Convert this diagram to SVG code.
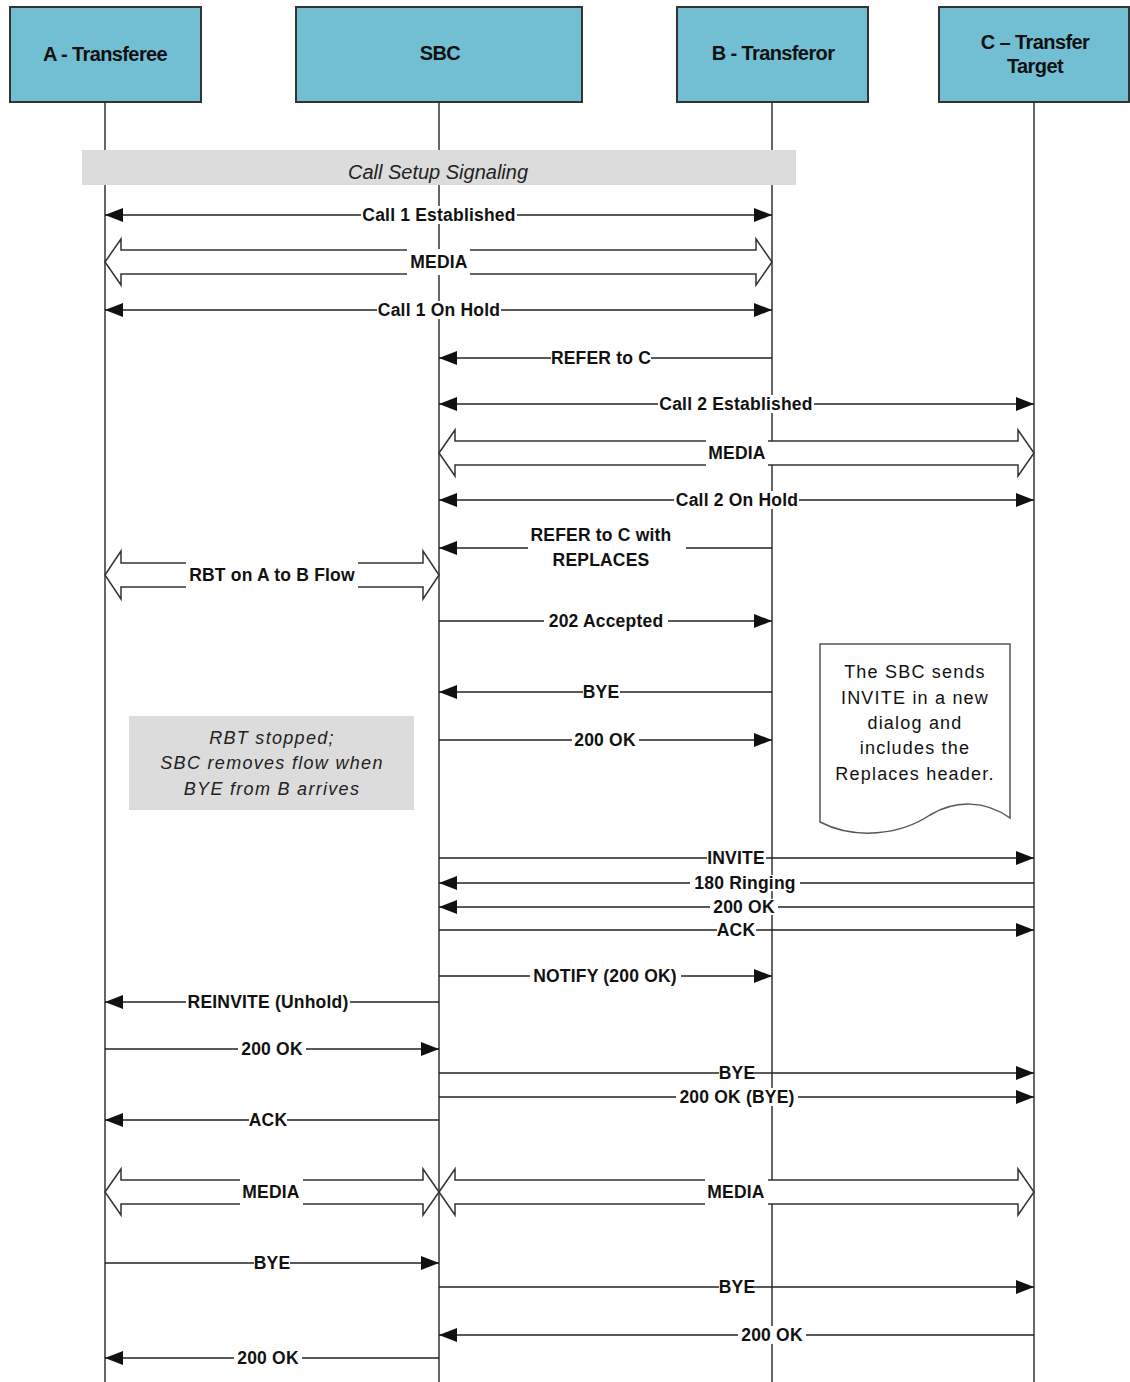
<svg xmlns="http://www.w3.org/2000/svg" width="1130" height="1382" viewBox="0 0 1130 1382">
<style>
.hdr{fill:#72bfd3;stroke:#333;stroke-width:2}
.ht{font-family:"Liberation Sans",Arial,sans-serif;font-weight:bold;font-size:20px;letter-spacing:-0.6px;fill:#111;text-anchor:middle}
.life{stroke:#333;stroke-width:1.5}
.msg{stroke:#222;stroke-width:1.5;fill:none}
.fat{fill:#fff;stroke:#333;stroke-width:1.5}
.lb{fill:#fff}
.t{font-family:"Liberation Sans",Arial,sans-serif;font-weight:bold;font-size:17.5px;letter-spacing:0.2px;fill:#111;text-anchor:middle}
.gray{fill:#dcdcdc}
.it{font-family:"Liberation Sans",Arial,sans-serif;font-style:italic;fill:#222;text-anchor:middle}
.note{fill:#fff;stroke:#555;stroke-width:1.5}
.nt{font-family:"Liberation Sans",Arial,sans-serif;font-size:18px;letter-spacing:1.2px;fill:#111;text-anchor:middle}
</style>
<defs>
<marker id="ah" markerUnits="userSpaceOnUse" markerWidth="18" markerHeight="14" refX="18" refY="7" orient="auto-start-reverse">
<path d="M0,0 L18,7 L0,14 z" fill="#111"/>
</marker>
</defs>

<g id="lifelines">
<line class="life" x1="105" y1="102" x2="105" y2="1382"/>
<line class="life" x1="439" y1="102" x2="439" y2="1382"/>
<line class="life" x1="772" y1="102" x2="772" y2="1382"/>
<line class="life" x1="1034" y1="102" x2="1034" y2="1382"/>
</g>

<g id="node-a"><rect class="hdr" x="10" y="7" width="191" height="95"/><text class="ht" x="105" y="61">A - Transferee</text></g>
<g id="node-sbc"><rect class="hdr" x="296" y="7" width="286" height="95"/><text class="ht" x="440" y="60">SBC</text></g>
<g id="node-b"><rect class="hdr" x="677" y="7" width="191" height="95"/><text class="ht" x="773" y="60">B - Transferor</text></g>
<g id="node-c"><rect class="hdr" x="939" y="7" width="190" height="95"/><text class="ht" x="1035" y="49">C – Transfer</text><text class="ht" x="1035" y="73">Target</text></g>

<g id="call-setup">
<rect class="gray" x="82" y="150" width="714" height="35"/>
<text class="it" x="438" y="179" font-size="20">Call Setup Signaling</text>
</g>

<g id="rbt-stopped">
<rect class="gray" x="129" y="716" width="285" height="94"/>
<text class="it" x="272" y="744" font-size="18" letter-spacing="1.3">RBT stopped;</text>
<text class="it" x="272" y="769" font-size="18" letter-spacing="1.3">SBC removes flow when</text>
<text class="it" x="272" y="795" font-size="18" letter-spacing="1.3">BYE from B arrives</text>
</g>

<g id="note">
<path class="note" d="M820,644 L1010,644 L1010,818 C985,800 955,800 930,815 C900,835 855,840 820,822 Z"/>
<text class="nt" x="915" y="678">The SBC sends</text>
<text class="nt" x="915" y="704">INVITE in a new</text>
<text class="nt" x="915" y="729">dialog and</text>
<text class="nt" x="915" y="754">includes the</text>
<text class="nt" x="915" y="780">Replaces header.</text>
</g>

<g id="connectors">
<!-- Call 1 Established -->
<line class="msg" x1="105" y1="215" x2="772" y2="215" marker-start="url(#ah)" marker-end="url(#ah)"/>
<rect class="lb" x="361" y="206" width="156" height="18"/>
<text class="t" x="439" y="221">Call 1 Established</text>
<!-- MEDIA A-B -->
<polygon class="fat" points="105,262 121,239 121,250 756,250 756,239 772,262 756,285 756,274 121,274 121,285"/>
<rect class="lb" x="407" y="249" width="63" height="26"/>
<text class="t" x="439" y="268">MEDIA</text>
<!-- Call 1 On Hold -->
<line class="msg" x1="105" y1="310" x2="772" y2="310" marker-start="url(#ah)" marker-end="url(#ah)"/>
<rect class="lb" x="377" y="301" width="124" height="18"/>
<text class="t" x="439" y="316">Call 1 On Hold</text>
<!-- REFER to C -->
<line class="msg" x1="772" y1="358" x2="439" y2="358" marker-end="url(#ah)"/>
<rect class="lb" x="551" y="349" width="100" height="18"/>
<text class="t" x="601" y="364">REFER to C</text>
<!-- Call 2 Established -->
<line class="msg" x1="439" y1="404" x2="1034" y2="404" marker-start="url(#ah)" marker-end="url(#ah)"/>
<rect class="lb" x="658" y="395" width="156" height="18"/>
<text class="t" x="736" y="410">Call 2 Established</text>
<!-- MEDIA SBC-C -->
<polygon class="fat" points="439,453 455,430 455,441 1018,441 1018,430 1034,453 1018,476 1018,465 455,465 455,476"/>
<rect class="lb" x="706" y="440" width="62" height="26"/>
<text class="t" x="737" y="459">MEDIA</text>
<!-- Call 2 On Hold -->
<line class="msg" x1="439" y1="500" x2="1034" y2="500" marker-start="url(#ah)" marker-end="url(#ah)"/>
<rect class="lb" x="674" y="491" width="125" height="18"/>
<text class="t" x="737" y="506">Call 2 On Hold</text>
<!-- REFER to C with REPLACES -->
<line class="msg" x1="772" y1="548" x2="439" y2="548" marker-end="url(#ah)"/>
<rect class="lb" x="528" y="525" width="158" height="47"/>
<text class="t" x="601" y="541">REFER to C with</text>
<text class="t" x="601" y="566">REPLACES</text>
<!-- RBT on A to B Flow -->
<polygon class="fat" points="105,575 121,551 121,563 423,563 423,551 439,575 423,599 423,587 121,587 121,599"/>
<rect class="lb" x="186" y="562" width="172" height="26"/>
<text class="t" x="272" y="581">RBT on A to B Flow</text>
<!-- 202 Accepted -->
<line class="msg" x1="439" y1="621" x2="772" y2="621" marker-end="url(#ah)"/>
<rect class="lb" x="544" y="612" width="124" height="18"/>
<text class="t" x="606" y="627">202 Accepted</text>
<!-- BYE -->
<line class="msg" x1="772" y1="692" x2="439" y2="692" marker-end="url(#ah)"/>
<rect class="lb" x="583" y="683" width="37" height="18"/>
<text class="t" x="601" y="698">BYE</text>
<!-- 200 OK -->
<line class="msg" x1="439" y1="740" x2="772" y2="740" marker-end="url(#ah)"/>
<rect class="lb" x="572" y="731" width="67" height="18"/>
<text class="t" x="605" y="746">200 OK</text>
<!-- INVITE -->
<line class="msg" x1="439" y1="858" x2="1034" y2="858" marker-end="url(#ah)"/>
<rect class="lb" x="707" y="850" width="59" height="16"/>
<text class="t" x="736" y="864">INVITE</text>
<!-- 180 Ringing -->
<line class="msg" x1="1034" y1="883" x2="439" y2="883" marker-end="url(#ah)"/>
<rect class="lb" x="690" y="875" width="110" height="16"/>
<text class="t" x="745" y="889">180 Ringing</text>
<!-- 200 OK -->
<line class="msg" x1="1034" y1="907" x2="439" y2="907" marker-end="url(#ah)"/>
<rect class="lb" x="710" y="899" width="68" height="16"/>
<text class="t" x="744" y="913">200 OK</text>
<!-- ACK -->
<line class="msg" x1="439" y1="930" x2="1034" y2="930" marker-end="url(#ah)"/>
<rect class="lb" x="717" y="922" width="39" height="16"/>
<text class="t" x="736" y="936">ACK</text>
<!-- NOTIFY -->
<line class="msg" x1="439" y1="976" x2="772" y2="976" marker-end="url(#ah)"/>
<rect class="lb" x="530" y="967" width="151" height="18"/>
<text class="t" x="605" y="982">NOTIFY (200 OK)</text>
<!-- REINVITE -->
<line class="msg" x1="439" y1="1002" x2="105" y2="1002" marker-end="url(#ah)"/>
<rect class="lb" x="186" y="993" width="164" height="18"/>
<text class="t" x="268" y="1008">REINVITE (Unhold)</text>
<!-- 200 OK A->SBC -->
<line class="msg" x1="105" y1="1049" x2="439" y2="1049" marker-end="url(#ah)"/>
<rect class="lb" x="238" y="1040" width="68" height="18"/>
<text class="t" x="272" y="1055">200 OK</text>
<!-- BYE SBC->C -->
<line class="msg" x1="439" y1="1073" x2="1034" y2="1073" marker-end="url(#ah)"/>
<rect class="lb" x="719" y="1064" width="35" height="18"/>
<text class="t" x="737" y="1079">BYE</text>
<!-- 200 OK (BYE) -->
<line class="msg" x1="439" y1="1097" x2="1034" y2="1097" marker-end="url(#ah)"/>
<rect class="lb" x="676" y="1088" width="122" height="18"/>
<text class="t" x="737" y="1103">200 OK (BYE)</text>
<!-- ACK SBC->A -->
<line class="msg" x1="439" y1="1120" x2="105" y2="1120" marker-end="url(#ah)"/>
<rect class="lb" x="249" y="1111" width="38" height="18"/>
<text class="t" x="268" y="1126">ACK</text>
<!-- MEDIA A-SBC -->
<polygon class="fat" points="105,1192 121,1169 121,1180 423,1180 423,1169 439,1192 423,1215 423,1204 121,1204 121,1215"/>
<rect class="lb" x="240" y="1179" width="63" height="26"/>
<text class="t" x="271" y="1198">MEDIA</text>
<!-- MEDIA SBC-C -->
<polygon class="fat" points="439,1192 455,1169 455,1180 1018,1180 1018,1169 1034,1192 1018,1215 1018,1204 455,1204 455,1215"/>
<rect class="lb" x="705" y="1179" width="63" height="26"/>
<text class="t" x="736" y="1198">MEDIA</text>
<!-- BYE A->SBC -->
<line class="msg" x1="105" y1="1263" x2="439" y2="1263" marker-end="url(#ah)"/>
<rect class="lb" x="254" y="1254" width="36" height="18"/>
<text class="t" x="272" y="1269">BYE</text>
<!-- BYE SBC->C -->
<line class="msg" x1="439" y1="1287" x2="1034" y2="1287" marker-end="url(#ah)"/>
<rect class="lb" x="719" y="1278" width="35" height="18"/>
<text class="t" x="737" y="1293">BYE</text>
<!-- 200 OK C->SBC -->
<line class="msg" x1="1034" y1="1335" x2="439" y2="1335" marker-end="url(#ah)"/>
<rect class="lb" x="738" y="1326" width="68" height="18"/>
<text class="t" x="772" y="1341">200 OK</text>
<!-- 200 OK SBC->A -->
<line class="msg" x1="439" y1="1358" x2="105" y2="1358" marker-end="url(#ah)"/>
<rect class="lb" x="234" y="1349" width="68" height="18"/>
<text class="t" x="268" y="1364">200 OK</text>
</g>
</svg>
